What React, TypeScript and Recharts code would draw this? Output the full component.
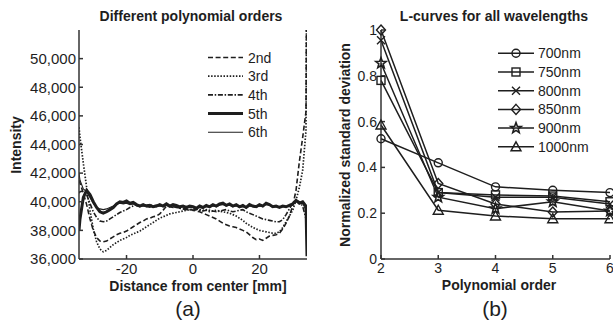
import React from 'react';
import { LineChart, Line, XAxis, YAxis } from 'recharts';

// ---------- Panel (a): Different polynomial orders ----------
const distance = [
  -34.3, -34, -33, -32, -31, -30, -29, -28, -27, -26, -25, -24, -23, -22, -21, -20, -19, -18,
  -17, -16, -15, -14, -13, -12, -11, -10, -9, -8, -7, -6, -5, -4, -3, -2, -1, 0,
  1, 2, 3, 4, 5, 6, 7, 8, 9, 10, 11, 12, 13, 14, 15, 16, 17, 18,
  19, 20, 21, 22, 23, 24, 25, 26, 27, 28, 29, 30, 31, 32, 33, 34, 34.3,
];

const order2nd = [
  41500, 41300, 40600, 39800, 38800, 38000, 37500, 37250, 37200, 37250, 37400, 37550, 37700, 37800, 37850, 37950, 38100, 38250,
  38400, 38550, 38650, 38800, 38850, 38950, 39000, 39150, 39400, 39700, 39650, 39600, 39650, 39550, 39500, 39450, 39500, 39400,
  39350, 39300, 39200, 39100, 39000, 38900, 38800, 38650, 38500, 38400, 38300, 38250, 38200, 38100, 38000, 37900, 37700, 37500,
  37350, 37400, 37300, 37450, 37600, 37650, 37700, 37800, 38100, 38500, 39000, 39700, 40800, 42800, 44500, 46300, 60000,
];

const order3rd = [
  45200, 44500, 42700, 41000, 39400, 38100, 37200, 36700, 36500, 36600, 36800, 37000, 37150, 37300, 37400, 37500, 37650, 37750,
  37850, 37950, 38100, 38250, 38400, 38550, 38700, 38850, 38950, 39050, 39150, 39200, 39250, 39300, 39350, 39400, 39450, 39450,
  39500, 39450, 39400, 39450, 39400, 39350, 39400, 39350, 39300, 39250, 39200, 39100, 39000, 38850, 38700, 38500, 38350, 38200,
  38100, 38000, 37950, 37900, 37850, 37800, 37800, 37900, 38200, 38600, 39000, 39400, 40100, 41000, 42200, 45000, 60000,
];

const order4th = [
  40600, 40700, 40750, 40500, 39900, 39300, 38900, 38650, 38600, 38650, 38800, 38950, 39100, 39250, 39350, 39450, 39600, 39700,
  39800, 39750, 39800, 39750, 39800, 39700, 39750, 39700, 39800, 39750, 39700, 39650, 39600, 39550, 39500, 39500, 39450, 39400,
  39450, 39400, 39350, 39400, 39300, 39350, 39300, 39350, 39400, 39450, 39350, 39300, 39350, 39400, 39450, 39300, 39200, 39100,
  39000, 38900, 38800, 38750, 38700, 38650, 38600, 38600, 38750, 39100, 39500, 39900, 40100, 40000, 39700, 38800, 38200,
];

const order5th = [
  38000, 38800, 40300, 40800, 40500, 40000, 39600, 39300, 39200, 39300, 39450, 39600, 39850, 40000, 39950, 40050, 39900, 39950,
  39800, 39700, 39800, 39700, 39750, 39650, 39700, 39800, 39700, 39850, 39700, 39800, 39750, 39650, 39700, 39600, 39700, 39650,
  39550, 39700, 39600, 39750, 39650, 39800, 39700, 39850, 39900, 39750, 39850, 39700, 39800, 39650, 39750, 39600, 39800, 39700,
  39650, 39800, 39700, 39900, 39800, 39650, 39700, 39600, 39700, 39650, 39750, 39850, 40100, 39900, 40000, 39700, 36200,
];

const order6th = [
  42000, 41500, 40900, 40700, 40300, 39900, 39600, 39500, 39450, 39500, 39600, 39700, 39850, 39900, 39850, 39900, 39800, 39850,
  39700, 39650, 39700, 39650, 39600, 39700, 39650, 39700, 39650, 39750, 39650, 39700, 39650, 39600, 39650, 39550, 39600, 39600,
  39500, 39600, 39550, 39650, 39600, 39700, 39650, 39750, 39800, 39700, 39750, 39650, 39700, 39600, 39650, 39550, 39700, 39650,
  39600, 39700, 39650, 39800, 39750, 39600, 39650, 39600, 39650, 39650, 39700, 39800, 40000, 39950, 39900, 39400, 38600,
];

const distanceTicks = [-20, 0, 20];
const intensityTicks = [36000, 38000, 40000, 42000, 44000, 46000, 48000, 50000];
const orderLabels = ['2nd', '3rd', '4th', '5th', '6th'];

// ---------- Panel (b): L-curves for all wavelengths ----------
const polyOrders = [2, 3, 4, 5, 6];
const nm700 = [0.525, 0.42, 0.315, 0.3, 0.29];
const nm750 = [0.78, 0.29, 0.28, 0.275, 0.25];
const nm800 = [0.955, 0.29, 0.27, 0.27, 0.24];
const nm850 = [1.0, 0.33, 0.24, 0.205, 0.21];
const nm900 = [0.855, 0.27, 0.22, 0.25, 0.21];
const nm1000 = [0.585, 0.213, 0.188, 0.176, 0.176];
const wavelengthLabels = ['700nm', '750nm', '800nm', '850nm', '900nm', '1000nm'];
const stdTicks = [0, 0.2, 0.4, 0.6, 0.8, 1];

const leftData = distance.map((x, i) => ({
  x,
  o2: order2nd[i],
  o3: order3rd[i],
  o4: order4th[i],
  o5: order5th[i],
  o6: order6th[i],
}));

const rightData = polyOrders.map((o, i) => ({
  o,
  w700: nm700[i],
  w750: nm750[i],
  w800: nm800[i],
  w850: nm850[i],
  w900: nm900[i],
  w1000: nm1000[i],
}));

const INK = '#1e1e1e';
const AXIS = '#333';
const FONT = '"Liberation Sans", Arial, Helvetica, sans-serif';

type Shape = 'circle' | 'square' | 'x' | 'diamond' | 'star' | 'triangle';

function starPath(cx: number, cy: number, ro: number, ri: number) {
  const pts: string[] = [];
  for (let k = 0; k < 10; k++) {
    const r = k % 2 === 0 ? ro : ri;
    const a = -Math.PI / 2 + (k * Math.PI) / 5;
    pts.push(`${(cx + r * Math.cos(a)).toFixed(2)},${(cy + r * Math.sin(a)).toFixed(2)}`);
  }
  return 'M' + pts.join('L') + 'Z';
}

function Marker({ cx, cy, shape }: { cx: number; cy: number; shape: Shape }) {
  const s = { fill: 'none', stroke: INK, strokeWidth: 1.4 };
  switch (shape) {
    case 'circle':
      return <circle cx={cx} cy={cy} r={4} {...s} />;
    case 'square':
      return <rect x={cx - 4} y={cy - 4} width={8} height={8} {...s} />;
    case 'x':
      return <path d={`M${cx - 4},${cy - 4}L${cx + 4},${cy + 4}M${cx - 4},${cy + 4}L${cx + 4},${cy - 4}`} {...s} />;
    case 'diamond':
      return <path d={`M${cx},${cy - 5}L${cx + 4.5},${cy}L${cx},${cy + 5}L${cx - 4.5},${cy}Z`} {...s} />;
    case 'star':
      return <path d={starPath(cx, cy, 5.5, 2.3)} {...s} strokeWidth={1.6} />;
    case 'triangle':
      return <path d={`M${cx},${cy - 5}L${cx + 5},${cy + 4}L${cx - 5},${cy + 4}Z`} {...s} />;
  }
  return null;
}

const shapes: Shape[] = ['circle', 'square', 'x', 'diamond', 'star', 'triangle'];
const rightKeys = ['w700', 'w750', 'w800', 'w850', 'w900', 'w1000'];

const leftStyles = [
  { key: 'o2', dash: '5 2.6', width: 1.6 },
  { key: 'o3', dash: '1.5 1.6', width: 1.7 },
  { key: 'o4', dash: '5 1.7 1.5 1.7', width: 1.6 },
  { key: 'o5', dash: undefined as string | undefined, width: 3 },
  { key: 'o6', dash: undefined as string | undefined, width: 1.1 },
];

const tickStyle = (size: number) => ({ fill: INK, fontSize: size, fontFamily: FONT });

export default function App() {
  return (
    <div style={{ position: 'absolute', left: 0, top: 0, width: 613, height: 327, background: '#fff', overflow: 'hidden' }}>
      <div style={{ position: 'absolute', left: 0, top: 0 }}>
        <LineChart width={310} height={327} data={leftData} margin={{ top: 30, right: 3, bottom: 38, left: 19 }}>
          <XAxis
            xAxisId="b"
            dataKey="x"
            type="number"
            domain={[-34.3, 34.3]}
            ticks={distanceTicks}
            interval={0}
            allowDataOverflow
            height={30}
            stroke={AXIS}
            strokeWidth={1.5}
            tickSize={-4}
            tickMargin={8}
            tick={tickStyle(15)}
          />
          <XAxis
            xAxisId="t"
            dataKey="x"
            type="number"
            orientation="top"
            domain={[-34.3, 34.3]}
            ticks={distanceTicks}
            interval={0}
            allowDataOverflow
            height={0}
            stroke={AXIS}
            strokeWidth={1.5}
            tickSize={-4}
            tick={false}
          />
          <YAxis
            yAxisId="l"
            type="number"
            domain={[36000, 52000]}
            ticks={intensityTicks}
            interval={0}
            allowDataOverflow
            width={60}
            stroke={AXIS}
            strokeWidth={1.5}
            tickSize={-4}
            tickMargin={7}
            tick={tickStyle(15)}
            tickFormatter={(v: number) => v.toLocaleString('en-US')}
          />
          <YAxis
            yAxisId="r"
            type="number"
            orientation="right"
            domain={[36000, 52000]}
            ticks={intensityTicks}
            interval={0}
            allowDataOverflow
            width={0}
            stroke={AXIS}
            strokeWidth={1.5}
            tickSize={-4}
            tick={false}
          />
          {leftStyles.map((s) => (
            <Line
              key={s.key}
              xAxisId="b"
              yAxisId="l"
              dataKey={s.key}
              type="linear"
              stroke={INK}
              strokeWidth={s.width}
              strokeDasharray={s.dash}
              dot={false}
              activeDot={false}
              isAnimationActive={false}
            />
          ))}
        </LineChart>
      </div>

      <div style={{ position: 'absolute', left: 310, top: 0 }}>
        <LineChart width={303} height={327} data={rightData} margin={{ top: 30, right: 3, bottom: 38, left: 11 }}>
          <XAxis
            xAxisId="b"
            dataKey="o"
            type="number"
            domain={[2, 6]}
            ticks={polyOrders}
            interval={0}
            height={30}
            stroke={AXIS}
            strokeWidth={1.5}
            tickSize={-4}
            tickMargin={8}
            tick={tickStyle(14)}
          />
          <XAxis
            xAxisId="t"
            dataKey="o"
            type="number"
            orientation="top"
            domain={[2, 6]}
            ticks={polyOrders}
            interval={0}
            height={0}
            stroke={AXIS}
            strokeWidth={1.5}
            tickSize={-4}
            tick={false}
          />
          <YAxis
            yAxisId="l"
            type="number"
            domain={[0, 1]}
            ticks={stdTicks}
            interval={0}
            width={60}
            stroke={AXIS}
            strokeWidth={1.5}
            tickSize={-4}
            tickMargin={8}
            tick={tickStyle(14)}
          />
          <YAxis
            yAxisId="r"
            type="number"
            orientation="right"
            domain={[0, 1]}
            ticks={stdTicks}
            interval={0}
            width={0}
            stroke={AXIS}
            strokeWidth={1.5}
            tickSize={-4}
            tick={false}
          />
          {rightKeys.map((k, i) => (
            <Line
              key={k}
              xAxisId="b"
              yAxisId="l"
              dataKey={k}
              type="linear"
              stroke={INK}
              strokeWidth={1.5}
              dot={(p: any) => <Marker key={`${k}-${p.index}`} cx={p.cx} cy={p.cy} shape={shapes[i]} />}
              activeDot={false}
              isAnimationActive={false}
            />
          ))}
        </LineChart>
      </div>

      <svg
        width={613}
        height={327}
        style={{ position: 'absolute', left: 0, top: 0, pointerEvents: 'none' }}
        fontFamily={FONT}
      >
        {/* Titles */}
        <text x={191} y={20.5} textAnchor="middle" fontSize={14} fontWeight="bold" fill={INK}>
          Different polynomial orders
        </text>
        <text x={494} y={20.5} textAnchor="middle" fontSize={14} fontWeight="bold" fill={INK}>
          L-curves for all wavelengths
        </text>
        {/* Axis labels */}
        <text transform="translate(20.5,145) rotate(-90)" textAnchor="middle" fontSize={14} fontWeight="bold" fill={INK}>
          Intensity
        </text>
        <text transform="translate(349.5,145) rotate(-90)" textAnchor="middle" fontSize={14} fontWeight="bold" fill={INK}>
          Normalized standard deviation
        </text>
        <text x={198} y={291} textAnchor="middle" fontSize={14} fontWeight="bold" fill={INK}>
          Distance from center [mm]
        </text>
        <text x={499} y={290} textAnchor="middle" fontSize={14} fontWeight="bold" fill={INK}>
          Polynomial order
        </text>
        {/* Panel labels */}
        <text x={188} y={316} textAnchor="middle" fontSize={21} fill={INK}>
          (a)
        </text>
        <text x={495} y={316} textAnchor="middle" fontSize={21} fill={INK}>
          (b)
        </text>

        {/* Legend (a) */}
        {orderLabels.map((lab, i) => {
          const y = 57.5 + 18.7 * i;
          const s = leftStyles[i];
          return (
            <g key={lab}>
              <line x1={208} x2={243} y1={y} y2={y} stroke={INK} strokeWidth={s.width} strokeDasharray={s.dash} />
              <text x={248} y={y + 5} fontSize={14} fill={INK}>
                {lab}
              </text>
            </g>
          );
        })}

        {/* Legend (b) */}
        {wavelengthLabels.map((lab, i) => {
          const y = 53.3 + 18.7 * i;
          return (
            <g key={lab}>
              <line x1={498} x2={534} y1={y} y2={y} stroke={INK} strokeWidth={1.5} />
              <Marker cx={516} cy={y} shape={shapes[i]} />
              <text x={538} y={y + 5} fontSize={14} fill={INK}>
                {lab}
              </text>
            </g>
          );
        })}
      </svg>
    </div>
  );
}
